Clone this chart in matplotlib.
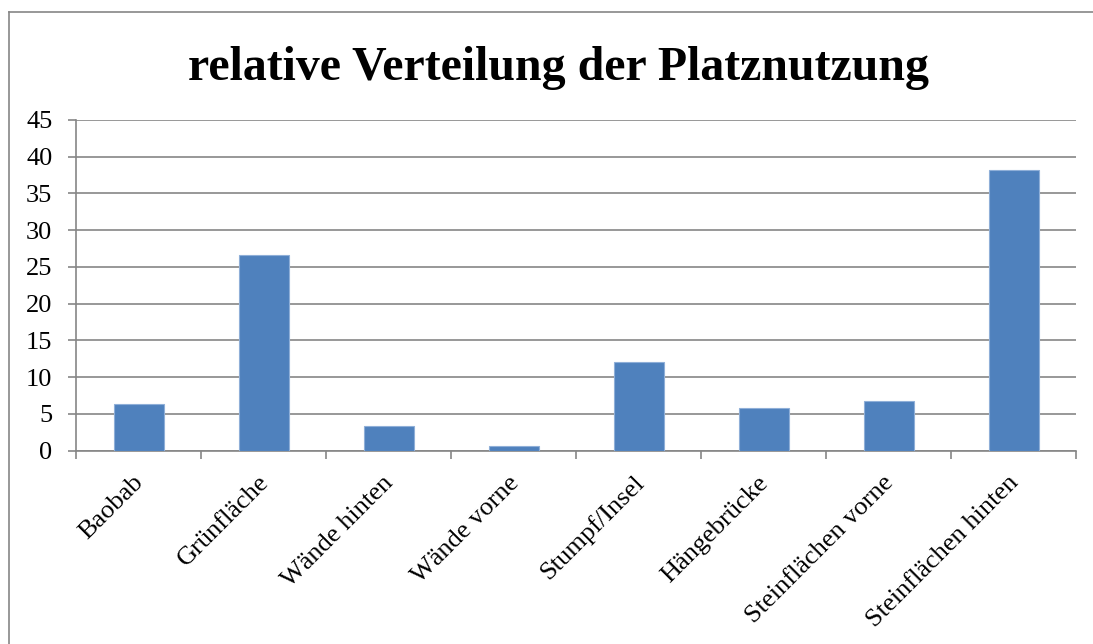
import numpy as np
import matplotlib.pyplot as plt
import matplotlib.transforms as mtransforms
from matplotlib.lines import Line2D

categories = ['Baobab', 'Grünfläche', 'Wände hinten', 'Wände vorne',
              'Stumpf/Insel', 'Hängebrücke', 'Steinflächen vorne', 'Steinflächen hinten']
values = [6.3, 26.6, 3.3, 0.6, 12.1, 5.8, 6.7, 38.2]
yticks = [0, 5, 10, 15, 20, 25, 30, 35, 40, 45]

plt.rcParams['font.family'] = ['Liberation Serif', 'DejaVu Serif']
grey = '#868686'

fig = plt.figure(figsize=(10.93, 6.44), dpi=100)
ax = fig.add_axes([76/1093, 1 - 450.7/644, 1000/1093, 330.7/644])

x = np.arange(len(categories))
ax.bar(x, values, width=0.4, color='#4F81BD', edgecolor='#8FAFD8', linewidth=0.8, zorder=3)

ax.set_xlim(-0.5, len(categories) - 0.5)
ax.set_ylim(0, 45)
ax.set_yticks(yticks)
ax.tick_params(axis='y', labelsize=19, length=6, width=1.2, color=grey, direction='out', pad=11)
ax.yaxis.grid(True, color=grey, linewidth=1.2, zorder=0)

ax.set_xticks(x)
ax.set_xticklabels(categories, rotation=45, ha='right', rotation_mode='anchor', fontsize=19)
ax.tick_params(axis='x', length=0, pad=15)
ax.set_xticks(np.arange(len(categories) + 1) - 0.5, minor=True)
ax.tick_params(axis='x', which='minor', length=6, width=1.2, color=grey, direction='out')

# nudge the rotated labels a little to the left
shift = mtransforms.ScaledTranslation(-6/100, 0, fig.dpi_scale_trans)
for lbl in ax.get_xticklabels():
    lbl.set_transform(lbl.get_transform() + shift)

for s in ['top', 'right']:
    ax.spines[s].set_visible(False)
for s in ['left', 'bottom']:
    ax.spines[s].set_color(grey)
    ax.spines[s].set_linewidth(1.2)

fig.text(559/1093, 1 - 80/644, 'relative Verteilung der Platznutzung', ha='center', va='baseline',
         fontsize=34.5, fontweight='bold')

# chart frame (cut off at right/bottom)
fig.add_artist(Line2D([9/1093, 9/1093], [0, 1 - 12/644], color=grey, linewidth=1.2))
fig.add_artist(Line2D([9/1093, 1], [1 - 12/644, 1 - 12/644], color=grey, linewidth=1.2))

fig.savefig('out.png', dpi=100)
